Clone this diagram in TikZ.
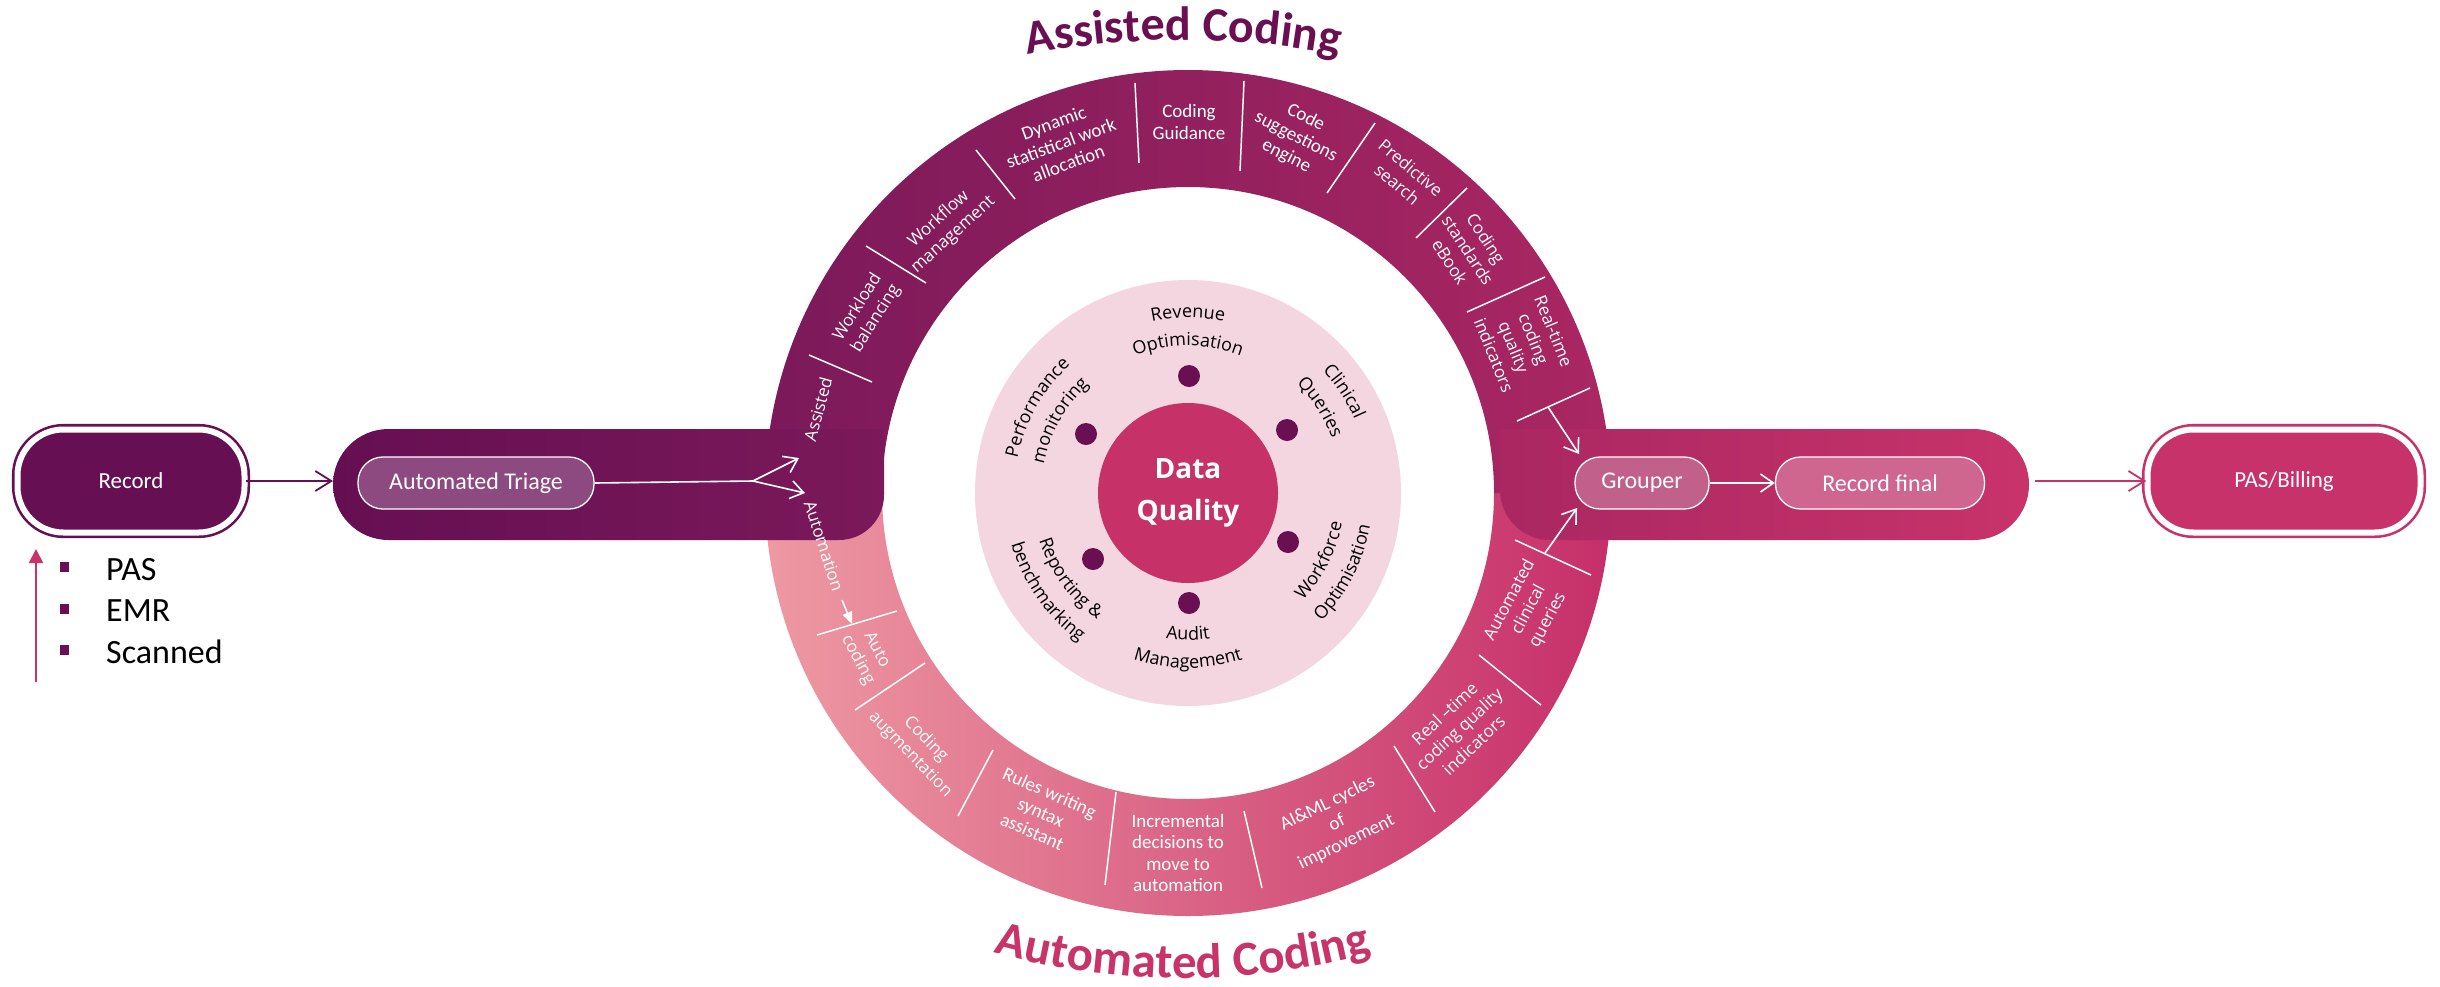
\documentclass[tikz,border=0pt]{standalone}
\usepackage{fontspec}
\setmainfont{Carlito}
\newfontfamily\calfont{Carlito}
\newfontfamily\segfont{Open Sans}
\usetikzlibrary{arrows.meta,decorations.text}
\definecolor{recC}{HTML}{670F53}
\definecolor{bandLa}{HTML}{650F52}
\definecolor{upL}{HTML}{7B195A}
\definecolor{upR}{HTML}{AA2762}
\definecolor{bandRb}{HTML}{C8336A}
\definecolor{lowL}{HTML}{EE99A3}
\definecolor{lowR}{HTML}{C62F69}
\definecolor{triC}{HTML}{8D4A80}
\definecolor{grpC}{HTML}{C1618B}
\definecolor{rfC}{HTML}{CE6690}
\definecolor{pasC}{HTML}{C8326A}
\definecolor{pinkC}{HTML}{F4D6E0}
\definecolor{dqC}{HTML}{C63268}
\definecolor{dotC}{HTML}{6A1052}
\definecolor{titA}{HTML}{6A1052}
\definecolor{titB}{HTML}{C8336A}
\tikzset{
  term/.style={draw=#1, fill=#1, double=white, double distance=6pt, line width=2.6pt,
    rounded corners=46pt, minimum height=103pt, inner sep=0pt, text=white,
    font=\calfont\fontsize{23}{26}\selectfont},
  pill/.style={draw=white, line width=1.3pt, fill=#1, rounded corners=25pt,
    minimum height=52pt, inner sep=0pt, text=white, font=\calfont\fontsize{24}{26}\selectfont},
  clab/.style={text=white, align=center, inner sep=0pt, font=\calfont\fontsize{19}{21.5}\selectfont},
  slab/.style={text=white, align=center, inner sep=0pt, font=\segfont\fontsize{17}{21.5}\selectfont},
  sepline/.style={white, line width=1.5pt},
  wline/.style={white, line width=1.6pt},
  warr/.style={white, line width=1.6pt, -{Straight Barb[length=13pt,width=18pt,line width=1.6pt]}},
  parr/.style={draw=#1, line width=1.8pt, -{Straight Barb[length=16pt,width=20pt,line width=1.8pt]}},
  dotmark/.style={circle, fill=dotC, minimum size=22pt, inner sep=0pt},
  legtext/.style={anchor=base west, inner sep=0pt, font=\calfont\fontsize{34}{38}\selectfont},
}
\newcommand\TopArc[3]{\path[shift={(1188,-493)}, decorate, decoration={text along path, text align=center, text color=black, text={|\segfont\fontsize{18}{20}\selectfont|#3}}] (#1+70:#2) arc[start angle=#1+70, end angle=#1-70, radius=#2];}
\newcommand\BotArc[3]{\path[shift={(1188,-493)}, decorate, decoration={text along path, text align=center, text color=black, text={|\segfont\fontsize{18}{20}\selectfont|#3}}] (#1-70:#2) arc[start angle=#1-70, end angle=#1+70, radius=#2];}
\begin{document}
\begin{tikzpicture}[x=1pt,y=1pt]
\useasboundingbox (0,0) rectangle (2440,-986);
\fill[white] (0,0) rectangle (2440,-986);

% lower half ring (automated)
\shade[left color=lowL, right color=lowR] (1611,-493) arc[start angle=0, end angle=-180, radius=423]
  -- (882,-493) arc[start angle=180, end angle=360, radius=306] -- cycle;
% upper half ring (assisted)
\shade[left color=upL, right color=upR] (765,-493) arc[start angle=180, end angle=0, radius=423]
  -- (1494,-493) arc[start angle=0, end angle=180, radius=306] -- cycle;
% left band
\shade[left color=bandLa, right color=upL] (884,-429) -- (884,-495) arc[start angle=0, end angle=-90, radius=45]
  -- (388.5,-540) arc[start angle=270, end angle=90, radius=55.5] -- cycle;
% right band
\shade[left color=upR, right color=bandRb] (1500,-429) -- (1973.5,-429) arc[start angle=90, end angle=-90, radius=55.5]
  -- (1550,-540) arc[start angle=270, end angle=180, radius=50] -- cycle;

% centre
\fill[pinkC] (1188,-493) circle[radius=213];
\node[circle, fill=dqC, minimum size=180pt, inner sep=0pt, text=white, align=center,
  font=\segfont\bfseries\fontsize{28}{42}\selectfont] (dq) at (1188,-493) {Data\\Quality};
\node[dotmark] (d1) at (1189,-376) {};
\node[dotmark] (d2) at (1287,-430) {};
\node[dotmark] (d3) at (1288,-542) {};
\node[dotmark] (d4) at (1189,-603) {};
\node[dotmark] (d5) at (1093,-559) {};
\node[dotmark] (d6) at (1086,-434) {};
\TopArc{90}{175}{Revenue}
\TopArc{90}{147}{Optimisation}
\TopArc{33}{182}{Clinical}
\TopArc{33}{154}{Queries}
\TopArc{150.5}{174}{Performance}
\TopArc{150.5}{147}{monitoring}
\BotArc{-27}{157}{Workforce}
\BotArc{-27}{185}{Optimisation}
\BotArc{-90}{147}{Audit}
\BotArc{-90}{175}{Management}
\BotArc{216}{156}{Reporting {\&}}
\BotArc{215}{184}{benchmarking}

% separators upper
\draw[sepline] (809,-355) -- (872,-382);
\draw[sepline] (866,-246) -- (926,-283);
\draw[sepline] (976,-150) -- (1015,-199);
\draw[sepline] (1135,-83) -- (1139,-163);
\draw[sepline] (1244,-81) -- (1240,-171);
\draw[sepline] (1375,-123) -- (1327,-193);
\draw[sepline] (1467,-188) -- (1416,-238);
\draw[sepline] (1545,-277) -- (1467,-312);
\draw[sepline] (1590,-388) -- (1517,-421);
% separators lower
\draw[sepline] (817,-635) -- (897,-611);
\draw[sepline] (925,-663) -- (855,-710);
\draw[sepline] (993,-750) -- (958,-816);
\draw[sepline] (1116,-792) -- (1105,-885);
\draw[sepline] (1244,-811) -- (1262,-888);
\draw[sepline] (1394,-746) -- (1435,-812);
\draw[sepline] (1479,-655) -- (1541,-705);
\draw[sepline] (1515,-540) -- (1591,-575);

% segment labels
\node[slab, rotate=75] (tAssisted) at (818,-409) {Assisted};
\node[slab, rotate=58] (tWorkload) at (867,-313) {Workload\\balancing};
\node[slab, rotate=42] (tWorkflow) at (946,-227) {Workflow\\management};
\node[clab, rotate=20] (tDynamic) at (1061,-143) {Dynamic\\statistical work\\allocation};
\node[clab] (tGuidance) at (1189,-122) {Coding\\Guidance};
\node[clab, rotate=-27] (tSuggest) at (1296,-137) {Code\\suggestions\\engine};
\node[slab, rotate=-40] (tPredict) at (1404,-176) {Predictive\\search};
\node[slab, rotate=-57] (tEbook) at (1468,-250) {Coding\\standards\\eBook};
\node[slab, rotate=-68] (tRealU) at (1524,-343) {Real-time\\coding\\quality\\indicators};
\node[slab, rotate=-72] (tAutomation) at (824,-546) {Automation};
\node[slab, rotate=-62] (tAuto) at (867,-655) {Auto\\coding};
\node[slab, rotate=-46] (tAugment) at (918,-747) {Coding\\augmentation};
\node[clab, rotate=-24] (tRules) at (1041,-812) {Rules writing\\syntax\\assistant};
\node[clab] (tIncr) at (1178,-853) {Incremental\\decisions to\\move to\\automation};
\node[clab, rotate=26] (tAI) at (1337,-823) {AI\&ML cycles\\of\\improvement};
\node[slab, rotate=43] (tRealL) at (1459,-729) {Real –time\\coding quality\\indicators};
\node[slab, rotate=62] (tClin) at (1529,-610) {Automated\\clinical\\queries};

% flow nodes
\node[term=recC, minimum width=227pt] (rec) at (131,-481) {Record};
\node[term=pasC, minimum width=273pt] (pas) at (2284,-481) {PAS/Billing};
\node[pill=triC, minimum width=236pt] (tri) at (476,-483) {Automated Triage};
\node[pill=grpC, minimum width=134pt] (grp) at (1642,-483) {Grouper};
\node[pill=rfC, minimum width=209pt] (rf) at (1880,-483) {Record final};

% connector points
\coordinate (bandIn) at (333,-481);
\coordinate (bandOut) at (2035,-481);
\coordinate (split) at (753,-481);
\coordinate (toAssist) at (799,-458);
\coordinate (toAuto) at (805,-493);
\coordinate (autoA) at (842,-600);
\coordinate (autoB) at (852,-624);
\coordinate (rtU) at (1548,-407);
\coordinate (gIn1) at (1579,-454);
\coordinate (acq) at (1545,-553);
\coordinate (gIn2) at (1577,-508);

\draw[parr=recC] (rec.east) -- (bandIn);
\draw[parr=pasC] (bandOut) -- (pas.west);
\draw[wline] (tri.east) -- (split);
\draw[warr] (split) -- (toAssist);
\draw[warr] (split) -- (toAuto);
\draw[white, line width=1.5pt, -{Triangle[length=12pt,width=10pt]}] (autoA) -- (autoB);
\draw[warr] (rtU) -- (gIn1);
\draw[warr] (acq) -- (gIn2);
\draw[warr] (grp.east) -- (rf.west);

% titles
\path[shift={(1183,-860)}, decorate, decoration={text along path, text align=center, text color=titA,
  text={|\calfont\bfseries\fontsize{48}{52}\selectfont|Assisted Coding}}]
  (110:820) arc[start angle=110, end angle=70, radius=820];
\path[shift={(1183,-258)}, decorate, decoration={text along path, text align=center, text color=titB,
  text={|\calfont\bfseries\fontsize{49}{53}\selectfont|Automated Coding}}]
  (250:720) arc[start angle=250, end angle=290, radius=720];

% legend
\coordinate (legBot) at (36,-682);
\coordinate (legTop) at (36,-549);
\draw[titB, line width=2pt, -{Triangle[length=14pt,width=14pt]}] (legBot) -- (legTop);
\fill[dotC] (59.5,-562) rectangle (68.5,-572);
\fill[dotC] (59.5,-604) rectangle (68.5,-614);
\fill[dotC] (59.5,-645) rectangle (68.5,-655);
\node[legtext] (lPAS) at (106,-580) {PAS};
\node[legtext] (lEMR) at (106,-621) {EMR};
\node[legtext] (lScan) at (106,-663) {Scanned};
\end{tikzpicture}
\end{document}
